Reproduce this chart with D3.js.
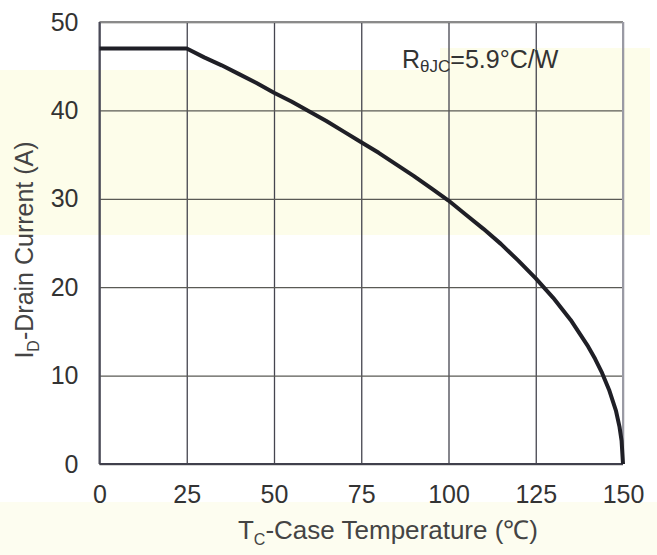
<!DOCTYPE html>
<html>
<head>
<meta charset="utf-8">
<script src="https://cdn.jsdelivr.net/npm/d3@7/dist/d3.min.js"></script>
<style>
  html, body { margin: 0; padding: 0; background: #ffffff; }
  svg { display: block; font-family: "Liberation Sans", Arial, sans-serif; }
</style>
</head>
<body>
<svg id="chart" width="657" height="555"></svg>
<script>
// ---- data ----
const xTickValues = [0, 25, 50, 75, 100, 125, 150];
const yTickValues = [0, 10, 20, 30, 40, 50];
const caseTempC = [0, 25, 30, 35, 40, 45, 50, 55, 60, 65, 70, 75, 80, 85, 90, 95, 100, 105, 110, 115, 120, 125, 130, 135, 140, 142, 144, 146, 148, 149, 149.6, 150];
const drainCurrentA = [47, 47, 46.0, 45.1, 44.1, 43.1, 42.0, 41.0, 39.9, 38.8, 37.6, 36.4, 35.2, 33.9, 32.6, 31.2, 29.8, 28.2, 26.6, 24.9, 23.0, 21.0, 18.8, 16.3, 13.3, 11.9, 10.3, 8.4, 6.0, 4.2, 2.6, 0];
const annotationMain = "R";
const annotationSub = "θJC";
const annotationRest = "=5.9°C/W";

// ---- layout ----
const svg = d3.select("#chart");
const W = 657, H = 555;
const plot = { left: 99.5, right: 623, top: 22, bottom: 464 };
const FONT = "'Liberation Sans', Arial, sans-serif";

// faint tinted background bands seen in the reference scan
svg.append("rect").attr("x", 0).attr("y", 70).attr("width", 650).attr("height", 165).attr("fill", "#fdfdea");
svg.append("rect").attr("x", 440).attr("y", 48).attr("width", 210).attr("height", 22).attr("fill", "#fdfdea");
svg.append("rect").attr("x", 0).attr("y", 502).attr("width", W).attr("height", H - 502).attr("fill", "#fdfdf0");

const x = d3.scaleLinear().domain([0, 150]).range([plot.left, plot.right]);
const y = d3.scaleLinear().domain([0, 50]).range([plot.bottom, plot.top]);

// grid lines (vertical)
const gx = svg.append("g")
  .attr("transform", `translate(0,${plot.bottom})`)
  .call(d3.axisBottom(x).tickValues(xTickValues).tickSize(-(plot.bottom - plot.top)).tickFormat(""));
gx.select(".domain").remove();
gx.selectAll(".tick line").attr("stroke", "#45454f").attr("stroke-width", 1.3);

// grid lines (horizontal)
const gy = svg.append("g")
  .attr("transform", `translate(${plot.left},0)`)
  .call(d3.axisLeft(y).tickValues(yTickValues).tickSize(-(plot.right - plot.left)).tickFormat(""));
gy.select(".domain").remove();
gy.selectAll(".tick line").attr("stroke", "#5a5a55").attr("stroke-width", 1.3);

// frame
svg.append("line").attr("x1", plot.left).attr("x2", plot.right).attr("y1", plot.top).attr("y2", plot.top)
  .attr("stroke", "#8a8a8a").attr("stroke-width", 2);
svg.append("line").attr("x1", plot.right).attr("x2", plot.right).attr("y1", plot.top).attr("y2", plot.bottom)
  .attr("stroke", "#9a9aa4").attr("stroke-width", 2);
svg.append("line").attr("x1", plot.left).attr("x2", plot.left).attr("y1", plot.top).attr("y2", plot.bottom)
  .attr("stroke", "#4a4a58").attr("stroke-width", 2);
svg.append("line").attr("x1", plot.left).attr("x2", plot.right).attr("y1", plot.bottom).attr("y2", plot.bottom)
  .attr("stroke", "#40404c").attr("stroke-width", 2.2);

// tick labels
const xAxisLabels = svg.append("g")
  .attr("transform", `translate(0,${plot.bottom})`)
  .call(d3.axisBottom(x).tickValues(xTickValues).tickSize(0).tickPadding(21).tickFormat(d3.format("d")));
xAxisLabels.select(".domain").remove();
xAxisLabels.selectAll("text").attr("font-size", 25).attr("fill", "#333").attr("font-family", FONT);

const yAxisLabels = svg.append("g")
  .attr("transform", `translate(${plot.left},0)`)
  .call(d3.axisLeft(y).tickValues(yTickValues).tickSize(0).tickPadding(21).tickFormat(d3.format("d")));
yAxisLabels.select(".domain").remove();
yAxisLabels.selectAll("text").attr("font-size", 25).attr("fill", "#333").attr("font-family", FONT);

// derating curve
const pts = caseTempC.map((t, i) => [t, drainCurrentA[i]]);
const line = d3.line().x(d => x(d[0])).y(d => y(d[1])).curve(d3.curveLinear);
svg.append("path").datum(pts).attr("d", line)
  .attr("fill", "none").attr("stroke", "#1f1f26").attr("stroke-width", 4)
  .attr("stroke-linejoin", "round");

// annotation
const ann = svg.append("text").attr("x", 402).attr("y", 68).attr("font-size", 25).attr("fill", "#333");
ann.append("tspan").text(annotationMain);
ann.append("tspan").attr("font-size", 17).attr("dy", 4).text(annotationSub);
ann.append("tspan").attr("dy", -4).text(annotationRest);

// axis titles
const xt = svg.append("text").attr("x", 388).attr("y", 539)
  .attr("text-anchor", "middle").attr("font-size", 26).attr("fill", "#444");
xt.append("tspan").text("T");
xt.append("tspan").attr("font-size", 16).attr("dy", 6).text("C");
xt.append("tspan").attr("dy", -6).text("-Case Temperature (℃)");

const yt = svg.append("text")
  .attr("transform", `translate(33,250) rotate(-90)`)
  .attr("text-anchor", "middle").attr("font-size", 25).attr("fill", "#444");
yt.append("tspan").text("I");
yt.append("tspan").attr("font-size", 16).attr("dy", 6).text("D");
yt.append("tspan").attr("dy", -6).text("-Drain Current (A)");
</script>
</body>
</html>
